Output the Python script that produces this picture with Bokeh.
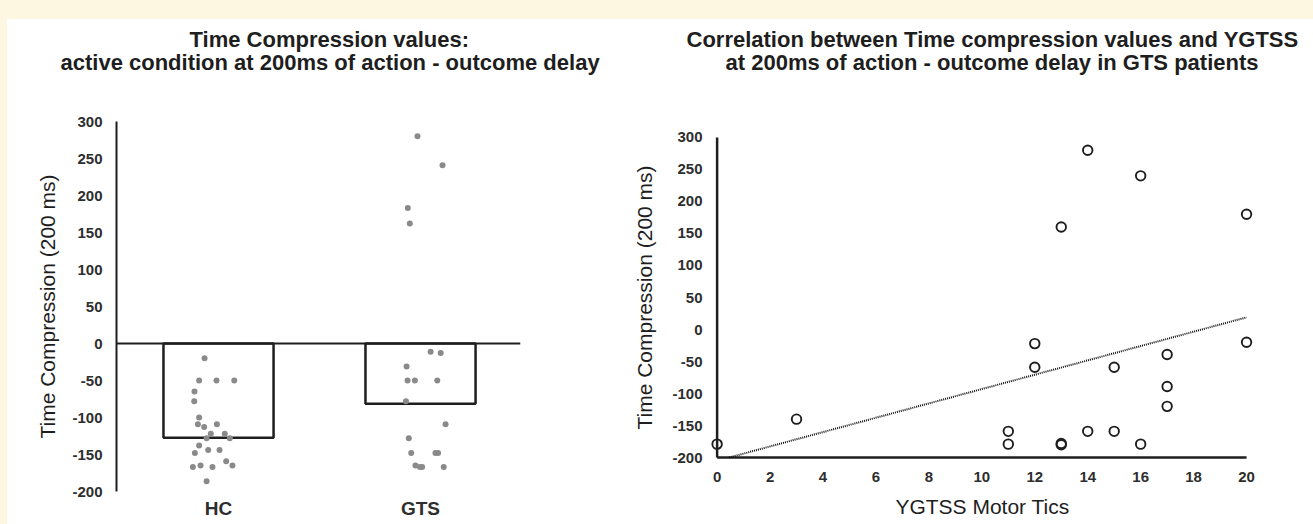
from bokeh.plotting import figure
from bokeh.models import FixedTicker, Span, Title, Spacer
from bokeh.layouts import row, column
from bokeh.embed import file_html
from bokeh.resources import INLINE
from jinja2 import Template

# ---------------- data ----------------
categories = ["HC", "GTS"]
group_means = [-127.5, -81.5]

hc_offsets = [-0.069, -0.096, -0.010, 0.078, -0.119, -0.120, -0.096, -0.102, -0.071, -0.008,
              -0.038, 0.031, -0.059, 0.056, -0.096, -0.051, 0.005, -0.117, 0.038, -0.127,
              -0.089, -0.030, 0.069, -0.059]
hc_values = [-20, -50, -50, -50, -65, -78, -100, -109, -113, -109,
             -122, -122, -128, -128, -138, -144, -144, -148, -159, -167,
             -165, -167, -165, -186]

gts_offsets = [-0.015, 0.109, -0.063, -0.053, 0.050, 0.100, -0.069, -0.064, -0.028, 0.083,
               -0.072, 0.124, -0.058, -0.046, 0.074, 0.087, -0.025, -0.003, 0.008, 0.115]
gts_values = [280, 241, 183, 162, -11, -13, -31, -50, -50, -50,
              -78, -109, -128, -148, -148, -148, -165, -167, -167, -167]

ygtss_motor = [0, 3, 11, 11, 12, 12, 13, 13, 13, 14, 14, 15, 15, 16, 16, 17, 17, 17, 20, 20]
time_compression = [-179, -140, -159, -179, -22, -59, 160, -178, -180, 280, -159, -59, -159,
                    240, -179, -39, -89, -120, 180, -20]

trend_slope = 11.2
trend_intercept = -205.0

y_ticks = [-200, -150, -100, -50, 0, 50, 100, 150, 200, 250, 300]
x_ticks_right = [0, 2, 4, 6, 8, 10, 12, 14, 16, 18, 20]
Y_MIN, Y_MAX = -200, 300
X_MIN, X_MAX = 0, 20

left_title = ["Time Compression values:",
              "active condition at 200ms of action - outcome delay"]
right_title = ["Correlation between Time compression values and YGTSS",
               "at 200ms of action - outcome delay in GTS patients"]
y_label = "Time Compression (200 ms)"
x_label_right = "YGTSS Motor Tics"

FONT = "Liberation Sans"
INK = "#1e1e1e"
TICK_INK = "#2e2e2e"
TITLE_SIZE = "22px"
CREAM = "#fdf7e1"


def style_axis(ax, size, bold=True):
    ax.major_label_text_font = FONT
    ax.major_label_text_font_size = size
    ax.major_label_text_font_style = "bold" if bold else "normal"
    ax.major_label_text_color = TICK_INK
    ax.major_tick_line_color = None
    ax.minor_tick_line_color = None
    ax.axis_label_text_font = FONT
    ax.axis_label_text_font_style = "normal"
    ax.axis_label_text_color = INK


def add_titles(p, lines, gap, offsets):
    # spacer title closest to the frame, then the two title lines
    p.add_layout(Title(text=" ", text_font_size="1px", standoff=gap,
                       text_line_height=1.0), "above")
    standoffs = [-8, 0]
    for line, off, so in reversed(list(zip(lines, offsets, standoffs))):
        p.add_layout(Title(text=line, align="left", offset=off, text_font=FONT,
                           text_font_size=TITLE_SIZE, text_font_style="bold",
                           text_color=INK, standoff=so), "above")


def plain_labels(ticks):
    return {t: str(t) for t in ticks}


# ---------------- left panel ----------------
cat_pos = [i + 1 for i in range(len(categories))]
left = figure(width=623, height=505, x_range=(0.495, 2.495), y_range=(Y_MIN, Y_MAX),
              output_backend="svg", toolbar_location=None,
              min_border_left=109, min_border_right=110, min_border_top=102,
              min_border_bottom=33)
left.xgrid.visible = False
left.ygrid.visible = False
left.outline_line_color = None
left.background_fill_color = "white"
left.border_fill_color = "white"

left.vbar(x=cat_pos, top=[0] * len(categories), bottom=group_means, width=0.545,
          fill_color="white", line_color=INK, line_width=2.5)
left.add_layout(Span(location=0, dimension="width", line_color=INK, line_width=2))

hc_x = [cat_pos[0] + o for o in hc_offsets]
gts_x = [cat_pos[1] + o for o in gts_offsets]
left.scatter(x=hc_x + gts_x, y=hc_values + gts_values, size=6,
             fill_color="#8a8a8a", line_color=None)

left.xaxis.ticker = FixedTicker(ticks=cat_pos)
left.xaxis.major_label_overrides = {p: c for p, c in zip(cat_pos, categories)}
style_axis(left.xaxis[0], "19px")
left.xaxis.axis_line_color = None
left.xaxis.major_label_standoff = 0

left.yaxis.ticker = FixedTicker(ticks=y_ticks)
left.yaxis.major_label_overrides = plain_labels(y_ticks)
style_axis(left.yaxis[0], "15px")
left.yaxis.axis_line_color = INK
left.yaxis.axis_line_width = 2
left.yaxis.major_label_standoff = 8
left.yaxis.axis_label = y_label
left.yaxis.axis_label_text_font_size = "21px"
left.yaxis.axis_label_standoff = 10
add_titles(left, left_title, 44, [73, -56])

# ---------------- right panel ----------------
right = figure(width=683, height=505, x_range=(-0.25, 20.3), y_range=(-203, 303),
               output_backend="svg", toolbar_location=None,
               min_border_left=80, min_border_right=59, min_border_top=116,
               min_border_bottom=65)
right.xgrid.visible = False
right.ygrid.visible = False
right.outline_line_color = None
right.background_fill_color = "white"
right.border_fill_color = "white"

# axis lines at the data origin
right.segment(x0=[X_MIN, X_MIN], y0=[Y_MIN, Y_MIN], x1=[X_MIN, X_MAX], y1=[Y_MAX, Y_MIN],
              line_color=INK, line_width=2.5)

trend_x0 = (Y_MIN - trend_intercept) / trend_slope
trend_xs = [trend_x0, X_MAX]
trend_ys = [trend_intercept + trend_slope * x for x in trend_xs]
right.line(trend_xs, trend_ys, line_color="#111111", line_width=2, line_dash="1 1")

right.scatter(x=ygtss_motor, y=time_compression, size=9.5, fill_color=None,
              line_color=INK, line_width=1.9)

right.xaxis.ticker = FixedTicker(ticks=x_ticks_right)
right.xaxis.major_label_overrides = plain_labels(x_ticks_right)
style_axis(right.xaxis[0], "15px")
right.xaxis.axis_line_color = None
right.xaxis.major_label_standoff = 6
right.xaxis.axis_label = x_label_right
right.xaxis.axis_label_text_font_size = "21px"
right.xaxis.axis_label_standoff = 10

right.yaxis.ticker = FixedTicker(ticks=y_ticks)
right.yaxis.major_label_overrides = plain_labels(y_ticks)
style_axis(right.yaxis[0], "15px")
right.yaxis.axis_line_color = None
right.yaxis.major_label_standoff = 2
right.yaxis.axis_label = y_label
right.yaxis.axis_label_text_font_size = "21px"
right.yaxis.axis_label_standoff = 13
add_titles(right, right_title, 58, [-24, 15])

layout = column(Spacer(width=1313, height=19),
                row(Spacer(width=7, height=505, styles={"background-color": CREAM}),
                    column(left), column(right), styles={"background-color": "white"}))

TEMPLATE = Template("""{% extends base %}
{% block preamble %}<style>
html,body{background:#fdf7e1 !important;overflow:hidden !important;margin:0 !important;padding:0 !important}
</style>{% endblock %}""")

open("out.html", "w").write(file_html(layout, INLINE, template=TEMPLATE))
